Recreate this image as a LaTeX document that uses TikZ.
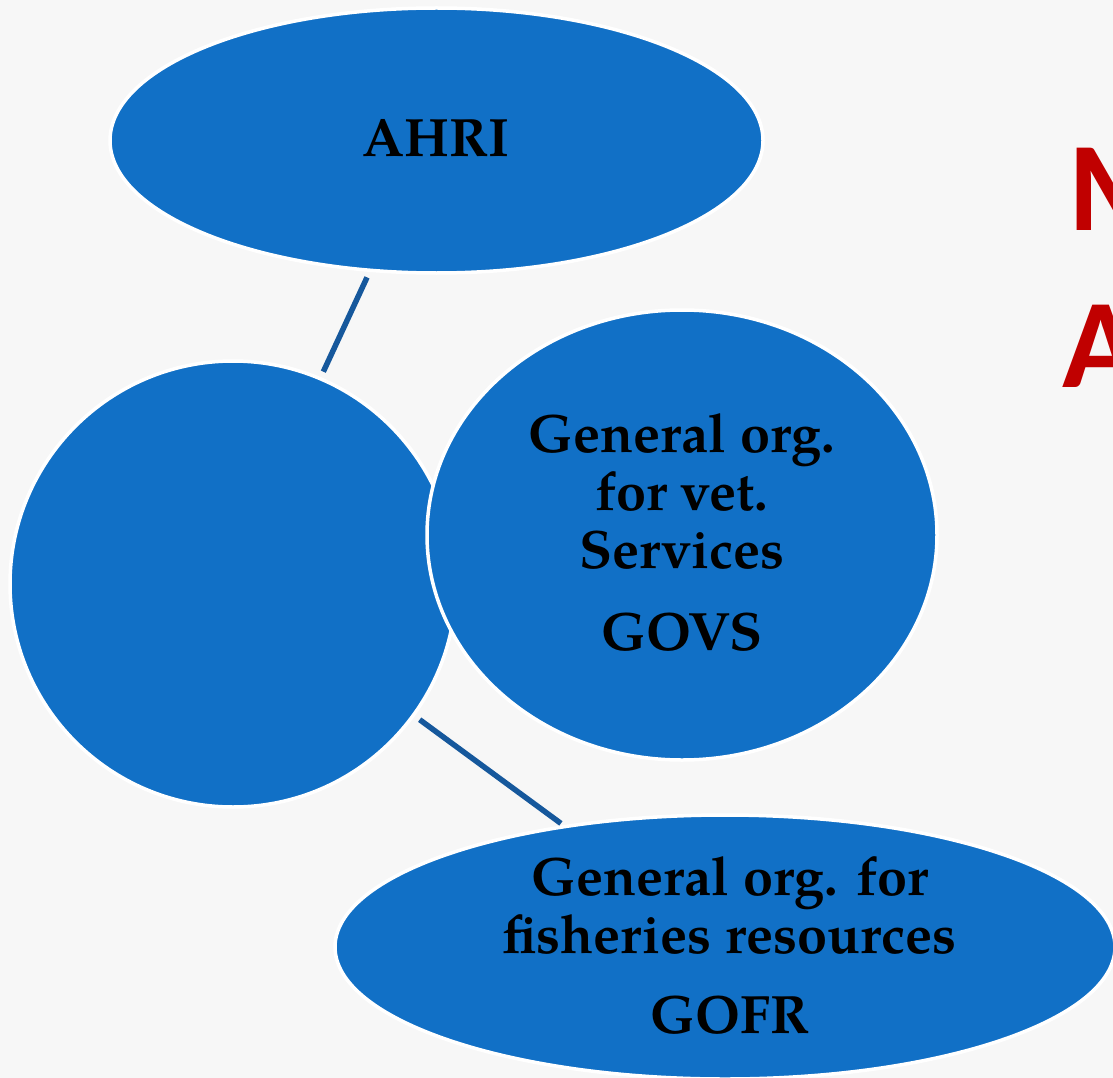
\documentclass[tikz,border=0pt]{standalone}
\usepackage{fontspec}
\newfontfamily\redsans{Carlito}
\newfontfamily\palfont{TeX Gyre Pagella}
\usetikzlibrary{shapes.geometric}
\definecolor{bgc}{HTML}{F7F7F7}
\definecolor{blobblue}{RGB}{17,112,198}
\definecolor{linkblue}{RGB}{22,88,156}
\definecolor{titlered}{HTML}{C00000}
\tikzset{
  blob/.style={ellipse, fill=blobblue, draw=white, line width=3.5pt, inner sep=0pt},
  lbl/.style={text=black, align=center, anchor=base, inner sep=0pt,
    font=\palfont\bfseries\fontsize{54}{58}\selectfont},
  link/.style={draw=linkblue, line width=5.5pt},
  redtxt/.style={text=titlered, font=\redsans\bfseries\fontsize{127}{127}\selectfont, anchor=base west, inner sep=0pt}
}
\begin{document}
\begin{tikzpicture}[x=1pt,y=-1pt]
\fill[bgc] (0,0) rectangle (1113,1078);
\useasboundingbox (0,0) rectangle (1113,1078);
\node[blob, minimum width=446pt, minimum height=446pt] (circ) at (233,584) {};
\node[blob, minimum width=510pt, minimum height=450pt] (govs) at (682,535) {};
\node[blob, minimum width=653pt, minimum height=265pt] (ahri) at (436.5,140.5) {};
\node[blob, minimum width=780pt, minimum height=264pt] (gofr) at (725,947) {};
\node[lbl] (ahritext) at (436,157) {AHRI};
\node[lbl] (govstext) at (682,568) {General org.\\for vet.\\Services};
\node[lbl] (govsabbr) at (682,650) {GOVS};
\node[lbl] (gofrtext) at (730,953) {General org. for\\fisheries resources};
\node[lbl] (gofrabbr) at (730,1033) {GOFR};
\draw[link, shorten <=6pt, shorten >=6pt] (ahri.243) -- (circ.67);
\draw[link, shorten <=6pt, shorten >=3pt] (circ.-36.5) -- (gofr.143);
\node[redtxt] (m) at (1068,230) {M};
\node[redtxt] (a) at (1062,387) {A};
\end{tikzpicture}
\end{document}
